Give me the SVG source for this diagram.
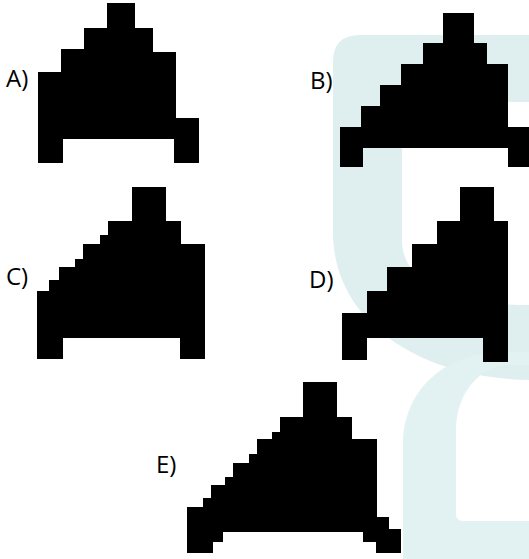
<svg xmlns="http://www.w3.org/2000/svg" width="529" height="559" viewBox="0 0 529 559">
<style>
.wm{fill:#dfeff0}
.wm2{fill:#e2f1f1}
.shape{fill:#000000}
.lbl{font-family:"Open Sans","Liberation Sans",sans-serif;font-size:24px;fill:#000000}
</style>
<rect width="529" height="559" fill="#ffffff"/>
<g id="watermark">
<path class="wm" fill-rule="evenodd" d="M 529,35 H 360 Q 333,35 333,62 V 232 C 333,322 420,378 529,380 Z M 529,102 H 426 Q 402,102 402,126 V 240 C 402,282 450,305 529,305 Z"/>
<path class="wm2" fill-rule="evenodd" d="M 403,559 V 445 C 403,392 442,354 500,352 H 529 V 559 Z M 529,365 H 505 C 478,368 456,395 456,430 V 514 Q 456,521 463,521 H 529 Z"/>
</g>
<g id="shape-a">
<polygon class="shape" points="107,3 135,3 135,28 153,28 153,52 176,52 176,118 199,118 199,163 174,163 174,139 63,139 63,163 38,163 38,72 61,72 61,49 84,49 84,28 107,28"/>
<text class="lbl" x="6" y="87">A)</text>
</g>
<g id="shape-b">
<polygon class="shape" points="443,13 474,13 474,43 487,43 487,64 508,64 508,127 535,127 535,167 508,167 508,148 363,148 363,167 340,167 340,127 361,127 361,106 380,106 380,85 401,85 401,64 423,64 423,43 443,43"/>
<text class="lbl" x="310" y="89">B)</text>
</g>
<g id="shape-c">
<polygon class="shape" points="132,187 166,187 166,221 181,221 181,244 205,244 205,359 180,359 180,338 63,338 63,359 37,359 37,291 49,291 49,280 59,280 59,267 75,267 75,259 83,259 83,244 100,244 100,235 108,235 108,221 132,221"/>
<text class="lbl" x="6" y="285">C)</text>
</g>
<g id="shape-d">
<polygon class="shape" points="460,187 494,187 494,221 508,221 508,362 483,362 483,338 367,338 367,360 342,360 342,313 367,313 367,291 387,291 387,267 412,267 412,244 437,244 437,221 460,221"/>
<text class="lbl" x="309" y="288">D)</text>
</g>
<g id="shape-e">
<polygon class="shape" points="303,382 337,382 337,417 352,417 352,439 377,439 377,517 389,517 389,529 401,529 401,553 376,553 376,542 363,542 363,532 223,532 223,542 213,542 213,553 187,553 187,507 203,507 203,498 211,498 211,485 225,485 225,477 233,477 233,463 249,463 249,454 257,454 257,439 272,439 272,432 280,432 280,417 303,417"/>
<text class="lbl" x="156" y="473">E)</text>
</g>
<g id="connectors"/>
</svg>
